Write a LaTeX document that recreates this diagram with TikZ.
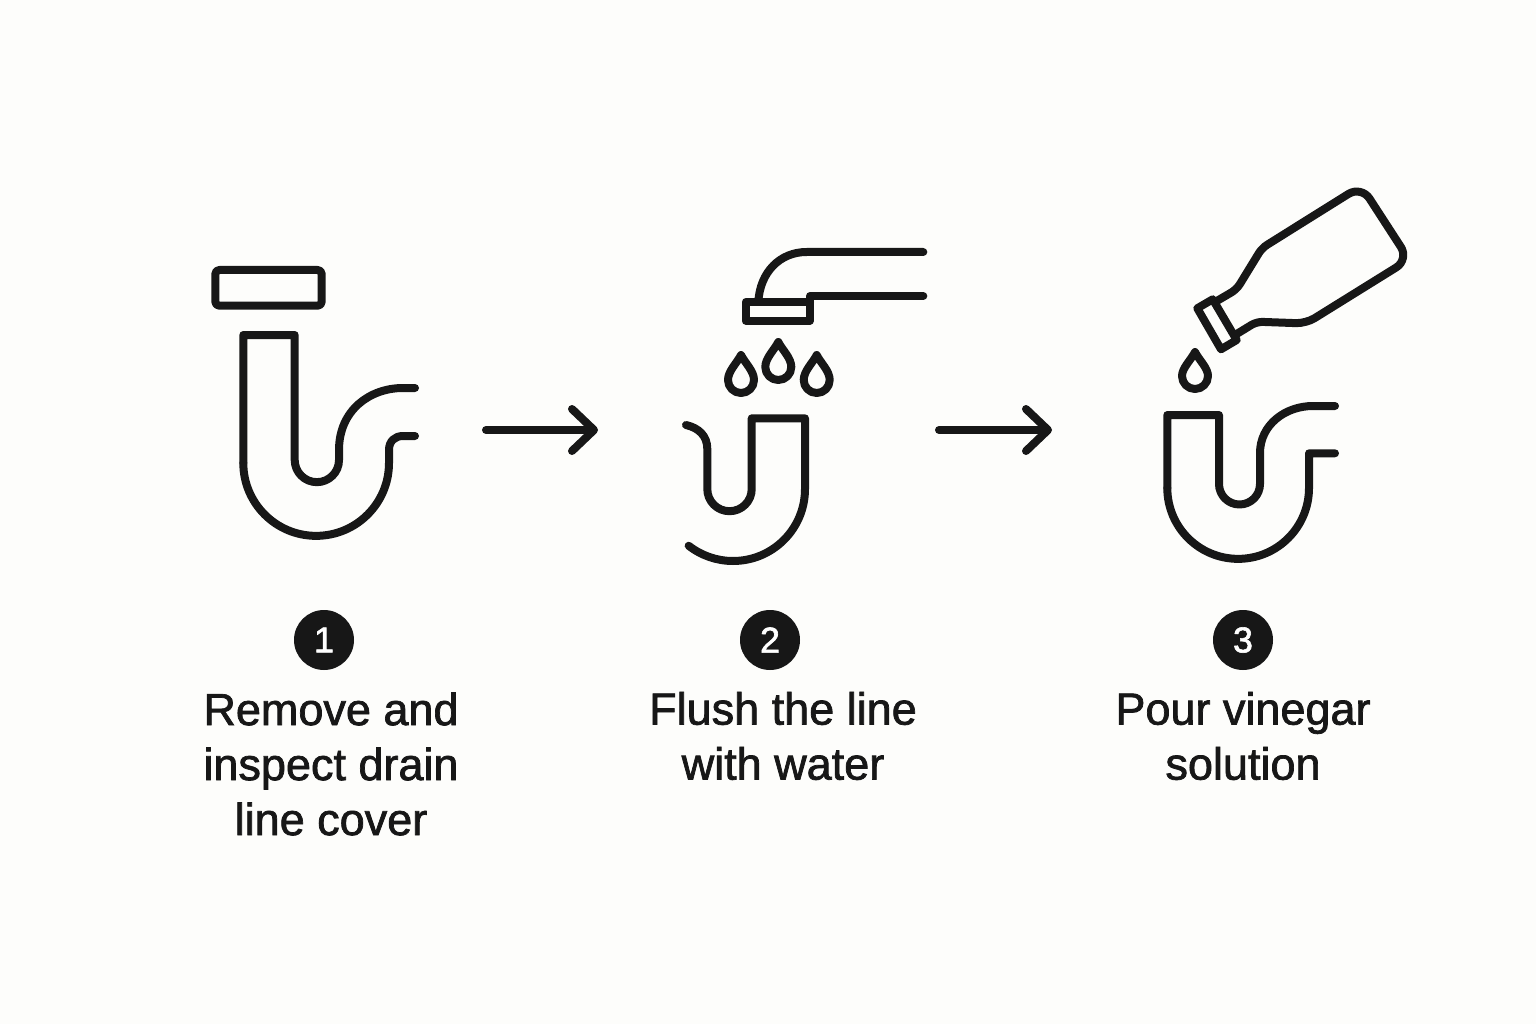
\documentclass[tikz,border=0pt]{standalone}
\usepackage{fontspec}
\setmainfont{Liberation Sans}[FakeBold=1.6]
\usetikzlibrary{arrows.meta}
\definecolor{inkblack}{HTML}{171717}
\definecolor{paper}{HTML}{FDFDFB}
\tikzset{
	pipe/.style = {draw=inkblack, line width=8pt, line cap=round, line join=round},
	badge/.style = {circle, fill=inkblack, text=white, minimum size=60pt, inner sep=0pt, font=\fontsize{36}{36}\selectfont},
	caption/.style = {align=center, text=inkblack, inner sep=0pt, font=\fontsize{45}{55}\selectfont},
	steparrow/.style = {pipe, -{Straight Barb[length=22pt, width=42pt, line width=8pt, round]}}
}

\begin{document}
\begin{tikzpicture}[x=1pt, y=-1pt]
	\useasboundingbox (0,0) rectangle (1536,1024);
	\fill[paper] (0,0) rectangle (1536,1024);

	\draw[pipe, rounded corners=4pt] (215.3,270) rectangle (321.7,305.7);
	\draw[pipe] (243.3,463) -- (243.3,335) -- (294.7,335) -- (294.7,460) arc[start angle=180, end angle=0, radius=22.15] -- (339,450) .. controls (339,410) and (370,388) .. (403,388) -- (415,388);
	\draw[pipe] (243.3,463) arc[start angle=180, end angle=0, radius=72.85] -- (389,450) .. controls (389,441) and (395,436) .. (403,436) -- (415,436);

	\draw[pipe] (923.3,252) -- (806.7,252) .. controls (780,252) and (760,272) .. (758.3,302);
	\draw[pipe] (923.3,296) -- (810,296) -- (810,320.7) -- (745.7,320.7) -- (745.7,302) -- (810,302);
	\foreach \dropx/\dropy in {741/379, 778.3/366, 816.7/379}
		\draw[pipe] (\dropx,\dropy-24) .. controls (\dropx+4,\dropy-16) and (\dropx+13,\dropy-8) .. (\dropx+13,\dropy+1) arc[start angle=0, end angle=180, radius=13] .. controls (\dropx-13,\dropy-8) and (\dropx-4,\dropy-16) .. cycle;
	\draw[pipe] (686,425) .. controls (699,428) and (707.3,436) .. (707.3,449) -- (707.3,489) arc[start angle=180, end angle=0, radius=22.2] -- (751.7,418.3) -- (805,418.3) -- (805,489) arc[start angle=0, end angle=128, radius=72];

	\draw[pipe] (1197.3,308.3) -- (1212.7,299.3) -- (1236.7,340) -- (1221,349.3) -- cycle;
	\draw[pipe, rounded corners=6pt] (1217.3,300.7) -- (1236.7,289.3) -- (1262,248) [rounded corners=15pt] -- (1361.3,185.9) -- (1409,259.5) [rounded corners=10pt] -- (1306,323.5) [rounded corners=6pt] -- (1256.7,321.7) -- (1235,335);
	\draw[pipe] (1195,352) .. controls (1199,360) and (1208,368) .. (1208,376) arc[start angle=0, end angle=180, radius=13] .. controls (1182,368) and (1191,360) .. cycle;
	\draw[pipe] (1167.3,488) -- (1167.3,415) -- (1219,415) -- (1219,484) arc[start angle=180, end angle=0, radius=20.5] -- (1260,453) .. controls (1260,425) and (1285,406) .. (1313,406) -- (1335,406);
	\draw[pipe] (1167.3,488) arc[start angle=180, end angle=0, radius=70.85] -- (1309,453.3) -- (1335,453.3);

	\coordinate (arrowA) at (486,430);
	\coordinate (arrowB) at (598,430);
	\coordinate (arrowC) at (939,430);
	\coordinate (arrowD) at (1052,430);
	\draw[steparrow] (arrowA) -- (arrowB);
	\draw[steparrow] (arrowC) -- (arrowD);

	\node[badge] (one) at (324,640) {1};
	\node[badge] (two) at (770,640) {2};
	\node[badge] (three) at (1243,640) {3};
	\node[caption] (removetext) at (331,764) {Remove and\\inspect drain\\line cover};
	\node[caption] (flushtext) at (783,736) {Flush the line\\with water};
	\node[caption] (pourtext) at (1243,736) {Pour vinegar\\solution};
\end{tikzpicture}
\end{document}
